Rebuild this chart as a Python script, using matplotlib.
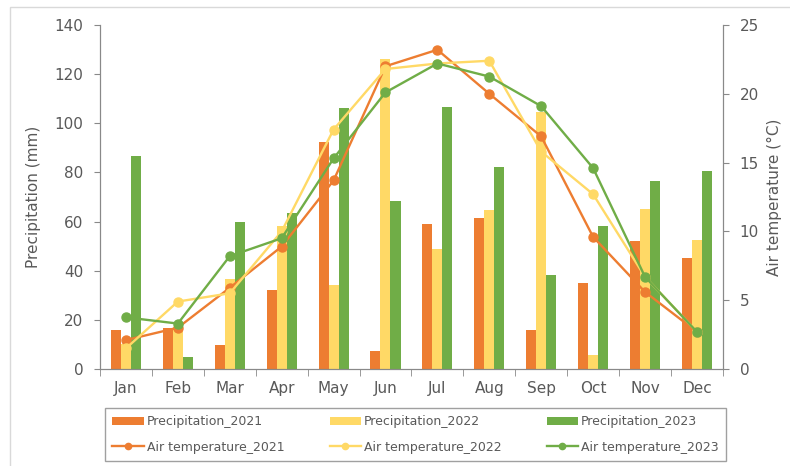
import matplotlib
matplotlib.use("Agg")
import matplotlib.pyplot as plt
import numpy as np
from matplotlib.patches import Rectangle

months = ["Jan", "Feb", "Mar", "Apr", "May", "Jun",
          "Jul", "Aug", "Sep", "Oct", "Nov", "Dec"]

prec_2021 = [16, 16.7, 9.6, 32.2, 92.3, 7.2, 59.1, 61.4, 16, 35, 51.9, 45.1]
prec_2022 = [10, 17, 36.8, 58.1, 34, 126.2, 49, 64.5, 104.5, 5.8, 65, 52.6]
prec_2023 = [86.5, 4.7, 60, 63.4, 106.4, 68.2, 106.7, 82.4, 38.3, 58.1, 76.6, 80.4]

temp_2021 = [2.1, 3.0, 5.9, 8.9, 13.7, 22.0, 23.2, 20.0, 16.9, 9.6, 5.6, 2.7]
temp_2022 = [1.5, 4.9, 5.5, 10.0, 17.4, 21.8, 22.2, 22.4, 15.8, 12.7, 6.7, 2.7]
temp_2023 = [3.75, 3.3, 8.2, 9.5, 15.3, 20.1, 22.2, 21.25, 19.1, 14.6, 6.7, 2.7]

c_orange = "#ED7D31"
c_yellow = "#FFD966"
c_green = "#70AD47"
grey_txt = "#595959"
grey_ax = "#898989"

plt.rcParams["font.family"] = "DejaVu Sans"

fig = plt.figure(figsize=(7.9, 4.66), dpi=100)
ax = fig.add_axes([0.1266, 0.2082, 0.7884, 0.7382])
ax2 = ax.twinx()

x = np.arange(len(months))
w = 0.193
b1 = ax.bar(x - w, prec_2021, w, color=c_orange, label="Precipitation_2021")
b2 = ax.bar(x, prec_2022, w, color=c_yellow, label="Precipitation_2022")
b3 = ax.bar(x + w, prec_2023, w, color=c_green, label="Precipitation_2023")

l1, = ax2.plot(x, temp_2021, color=c_orange, lw=1.7, marker="o", ms=6.5,
               label="Air temperature_2021")
l2, = ax2.plot(x, temp_2022, color=c_yellow, lw=1.7, marker="o", ms=6.5,
               label="Air temperature_2022")
l3, = ax2.plot(x, temp_2023, color=c_green, lw=1.7, marker="o", ms=6.5,
               label="Air temperature_2023")

ax.set_xlim(-0.5, 11.5)
ax.set_ylim(0, 140)
ax.set_yticks(np.arange(0, 141, 20))
ax2.set_ylim(0, 25)
ax2.set_yticks(np.arange(0, 26, 5))

ax.set_xticks(x)
ax.set_xticklabels(months)
ax.set_xticks(np.arange(-0.5, 12, 1), minor=True)
ax.tick_params(axis="x", which="major", length=0, pad=9, labelsize=11, colors=grey_txt)
ax.tick_params(axis="x", which="minor", length=5, color=grey_ax, direction="out")
ax.tick_params(axis="y", length=4, color=grey_ax, pad=8, labelsize=11, labelcolor=grey_txt)
ax2.tick_params(axis="y", length=4, color=grey_ax, pad=8, labelsize=11, labelcolor=grey_txt)

for a in (ax, ax2):
    a.spines["top"].set_visible(False)
    for s in ("left", "right", "bottom"):
        a.spines[s].set_color(grey_ax)

ax.set_ylabel("Precipitation (mm)", fontsize=11, color=grey_txt, labelpad=10)
ax2.set_ylabel("Air temperature (°C)", fontsize=11, color=grey_txt, labelpad=6)

handles = [b1, l1, b2, l2, b3, l3]
leg = fig.legend(handles, [h.get_label() for h in handles], ncol=3,
                 loc="lower left", bbox_to_anchor=(105 / 790, 5 / 466, 621 / 790, 0.11),
                 mode="expand", fontsize=9, frameon=True, fancybox=False,
                 edgecolor=grey_ax, handlelength=2.5, handleheight=0.6,
                 handletextpad=0.25, labelspacing=1.0, borderpad=0.6,
                 borderaxespad=0, labelcolor=grey_txt)
leg.get_frame().set_linewidth(1.0)
for h in leg.legend_handles:
    if hasattr(h, "set_markersize"):
        h.set_markersize(4.5)

fig.patches.append(Rectangle((10 / 790, -0.05), 1.0, 1 - 7 / 466 + 0.05,
                             transform=fig.transFigure, fill=False,
                             edgecolor="#D9D9D9", lw=1))

fig.savefig("out.png", dpi=100)
